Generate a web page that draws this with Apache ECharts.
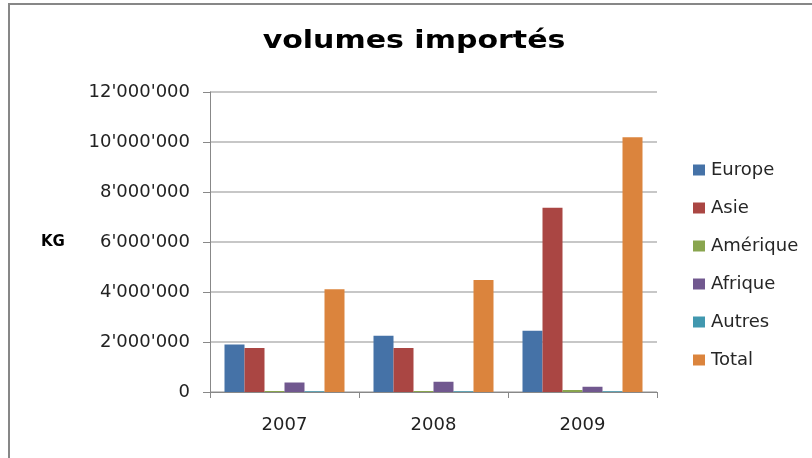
<!DOCTYPE html>
<html>
<head>
<meta charset="utf-8">
<script src="https://cdn.jsdelivr.net/npm/echarts@6/dist/echarts.min.js"></script>
<style>html,body{margin:0;padding:0;background:#fff;}#c{width:812px;height:458px;}</style>
</head>
<body>
<div id="c"></div>
<script>
const categories = ['2007', '2008', '2009'];
const seriesNames = ['Europe', 'Asie', 'Amérique', 'Afrique', 'Autres', 'Total'];
const europe = [1900000, 2250000, 2450000];
const asie = [1760000, 1760000, 7370000];
const amerique = [40000, 40000, 80000];
const afrique = [380000, 410000, 210000];
const autres = [30000, 30000, 30000];
const total = [4110000, 4480000, 10190000];
const yTicks = [0, 2000000, 4000000, 6000000, 8000000, 10000000, 12000000];
const colors = ['#4572A7', '#AA4643', '#89A54E', '#71588F', '#4198AF', '#DB843D'];

const values = [europe, asie, amerique, afrique, autres, total];
const fmt = v => String(v).replace(/\B(?=(\d{3})+(?!\d))/g, "'");

const chart = echarts.init(document.getElementById('c'));
chart.setOption({
  animation: false,
  backgroundColor: '#fff',
  graphic: [{
    type: 'rect', shape: { x: 9, y: 4, width: 900, height: 500 },
    style: { fill: 'none', stroke: '#878787', lineWidth: 2 }, silent: true, z: 100
  }, {
    type: 'text', x: 414, y: 30, scaleX: 1.25,
    style: { text: 'volumes importés', font: 'bold 24px "DejaVu Sans"', fill: '#000',
      textAlign: 'center', textVerticalAlign: 'top', verticalAlign: 'top' }
  }, {
    type: 'text', left: 41, top: 235,
    style: { text: 'KG', font: 'bold 15px "DejaVu Sans"', fill: '#000' }
  }],
  legend: {
    orient: 'vertical', left: 693, top: 161, padding: 0,
    itemWidth: 12, itemHeight: 11, itemGap: 20,
    icon: 'rect',
    textStyle: { fontFamily: 'DejaVu Sans', fontSize: 18, lineHeight: 18, color: '#262626', padding: [0, 0, 0, 1] },
    data: seriesNames
  },
  grid: { left: 210, right: 155, top: 92, bottom: 66 },
  xAxis: {
    type: 'category', data: categories,
    axisLine: { lineStyle: { color: '#888', width: 1 } },
    axisTick: { show: true, length: 6, alignWithLabel: false, lineStyle: { color: '#888' } },
    axisLabel: { fontFamily: 'DejaVu Sans', fontSize: 18, color: '#222', margin: 24 }
  },
  yAxis: {
    type: 'value', min: 0, max: 12000000, interval: 2000000,
    axisLine: { show: true, lineStyle: { color: '#888', width: 1 } },
    axisTick: { show: true, length: 7, lineStyle: { color: '#888' } },
    axisLabel: { fontFamily: 'DejaVu Sans', fontSize: 18, color: '#222', margin: 20,
      formatter: v => fmt(v) },
    splitLine: { lineStyle: { color: '#b5b5b5', width: 1.5 } }
  },
  series: seriesNames.map((n, i) => ({
    name: n, type: 'bar', data: values[i], barWidth: 20, barGap: 0,
    itemStyle: { color: colors[i] }
  }))
});
</script>
</body>
</html>
